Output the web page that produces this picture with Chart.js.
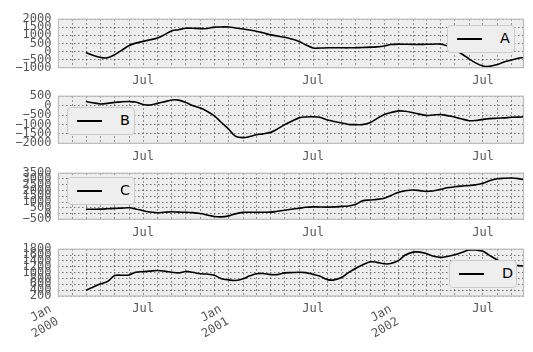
<!DOCTYPE html>
<html>
<head>
<meta charset="utf-8">
<script src="https://cdn.jsdelivr.net/npm/chart.js@4.4.1/dist/chart.umd.min.js"></script>
<style>
	html, body { margin: 0; padding: 0; background: #fff; }
	#fig { position: relative; width: 533px; height: 352px; overflow: hidden; }
	#fig canvas { position: absolute; left: 0; }
	.legend { position: absolute; box-sizing: border-box; width: 68px; height: 28px; background: #eeeeee;
		border: 1px solid #cccccc; border-radius: 4px; font-family: 'DejaVu Sans', sans-serif; font-size: 14.4px; color: #000; }
	.legend .swatch { position: absolute; left: 9px; top: 12px; width: 25px; height: 1.6px; background: #000; }
	.legend .label { position: absolute; left: 52px; top: 4px; }
</style>
</head>
<body>
<div id="fig">
	<canvas id="panelA"></canvas>
	<canvas id="panelB"></canvas>
	<canvas id="panelC"></canvas>
	<canvas id="panelD"></canvas>
</div>
<script>
// Sample dates (rolling mean starts at the end of February 2000).
const dates = [
	'2000-02-29', '2000-03-15', '2000-04-01', '2000-04-15', '2000-05-01', '2000-05-15', '2000-06-01', '2000-06-15',
	'2000-07-01', '2000-07-15', '2000-08-01', '2000-08-15', '2000-09-01', '2000-09-15', '2000-10-01', '2000-10-15',
	'2000-11-01', '2000-11-15', '2000-12-01', '2000-12-15', '2001-01-01', '2001-01-15', '2001-02-01', '2001-02-15',
	'2001-03-01', '2001-03-15', '2001-04-01', '2001-04-15', '2001-05-01', '2001-05-15', '2001-06-01', '2001-06-15',
	'2001-07-01', '2001-07-15', '2001-08-01', '2001-08-15', '2001-09-01', '2001-09-15', '2001-10-01', '2001-10-15',
	'2001-11-01', '2001-11-15', '2001-12-01', '2001-12-15', '2002-01-01', '2002-01-15', '2002-02-01', '2002-02-15',
	'2002-03-01', '2002-03-15', '2002-04-01', '2002-04-15', '2002-05-01', '2002-05-15', '2002-06-01', '2002-06-15',
	'2002-07-01', '2002-07-15', '2002-08-01', '2002-08-15', '2002-09-01', '2002-09-15', '2002-09-26'
];

const seriesA = [
	-60, -230, -370, -390, -190, 60, 370, 520, 630, 720,
	830, 1030, 1280, 1350, 1440, 1440, 1420, 1420, 1510, 1520,
	1520, 1460, 1390, 1330, 1260, 1160, 1030, 960, 880, 780,
	620, 420, 220, 215, 230, 230, 230, 230, 240, 250,
	270, 290, 340, 430, 460, 450, 440, 440, 450, 455,
	460, 350, 100, -120, -450, -700, -890, -920, -800, -650,
	-520, -420, -370
];
const seriesB = [
	220, 150, 90, 120, 170, 200, 215, 190, 60, 30,
	120, 200, 300, 290, 160, 0, -130, -300, -550, -870,
	-1260, -1620, -1700, -1640, -1550, -1500, -1420, -1250, -1010, -840,
	-650, -600, -590, -620, -760, -840, -920, -1000, -1010, -1010,
	-900, -690, -470, -370, -280, -300, -380, -450, -520, -500,
	-470, -530, -600, -700, -800, -790, -730, -690, -670, -650,
	-620, -610, -600
];
const seriesC = [
	370, 370, 380, 410, 450, 470, 500, 400, 240, 140,
	70, 110, 150, 120, 110, 80, 0, -120, -260, -290,
	-200, -30, 100, 110, 110, 110, 120, 200, 290, 370,
	460, 540, 580, 570, 560, 580, 620, 650, 800, 1100,
	1180, 1230, 1320, 1560, 1850, 1980, 2040, 1990, 1920, 1960,
	2100, 2230, 2320, 2380, 2430, 2490, 2620, 2850, 3020, 3060,
	3080, 3030, 2940
];
const seriesD = [
	400, 500, 620, 690, 900, 910, 920, 1015, 1030, 1050,
	1070, 1050, 1010, 990, 1040, 1010, 960, 950, 910, 800,
	750, 730, 790, 890, 960, 970, 930, 930, 990, 1000,
	1010, 1000, 940, 880, 760, 750, 840, 1000, 1150, 1260,
	1370, 1350, 1300, 1310, 1420, 1600, 1700, 1700, 1650, 1570,
	1520, 1550, 1610, 1680, 1770, 1770, 1730, 1590, 1430, 1330,
	1270, 1240, 1225
];

const labels = [ 'A', 'B', 'C', 'D' ];
const yTicksA = [ -1000, 2000, 500 ];   // min, max, step
const yTicksB = [ -2000, 500, 500 ];
const yTicksC = [ -500, 3500, 500 ];
const yTicksD = [ 200, 1800, 200 ];
const firstDay = '2000-01-01';
const lastDay = '2002-09-26';
const janYears = [ 2000, 2001, 2002 ];

document.addEventListener( 'DOMContentLoaded', function () {
	const dayMs = 86400000,
		epoch = Date.parse( firstDay ),
		fig = document.getElementById( 'fig' ),
		tickFont = { family: "'DejaVu Sans Mono', monospace", size: 12 },
		tickColor = '#555555';

	function toDay( s ) {
		return ( Date.parse( s ) - epoch ) / dayMs;
	}

	const maxDay = toDay( lastDay );

	// One grid line per month start.
	let monthTicks = [];
	for ( let y = 2000; y <= 2002; y++ ) {
		for ( let m = 0; m < 12; m++ ) {
			let d = ( Date.UTC( y, m, 1 ) - epoch ) / dayMs;
			if ( d <= maxDay ) {
				monthTicks.push( d );
			}
		}
	}

	const axesPlugin = {
		id: 'axesFrame',
		beforeDraw( chart ) {
			const a = chart.chartArea, ctx = chart.ctx;
			ctx.save();
			ctx.fillStyle = '#eeeeee';
			ctx.fillRect( a.left, a.top, a.right - a.left, a.bottom - a.top );
			ctx.restore();
		},
		afterDraw( chart ) {
			const a = chart.chartArea, ctx = chart.ctx;
			ctx.save();
			ctx.strokeStyle = '#bcbcbc';
			ctx.lineWidth = 1.2;
			ctx.strokeRect( a.left, a.top, a.right - a.left, a.bottom - a.top );
			ctx.restore();
		}
	};

	// Rotated "Jan / year" labels under the last panel.
	const janPlugin = {
		id: 'janLabels',
		afterDraw( chart ) {
			const ctx = chart.ctx, xs = chart.scales.x, bottom = chart.chartArea.bottom;
			ctx.save();
			ctx.font = '12px ' + tickFont.family;
			ctx.fillStyle = tickColor;
			ctx.textAlign = 'right';
			ctx.textBaseline = 'top';
			janYears.forEach( function ( year ) {
				const px = xs.getPixelForValue( ( Date.UTC( year, 0, 1 ) - epoch ) / dayMs );
				ctx.save();
				ctx.translate( px - 11, bottom + 7 );
				ctx.rotate( -Math.PI / 6 );
				ctx.fillText( 'Jan', 0, 0 );
				ctx.fillText( String( year ), 0, 14.4 );
				ctx.restore();
			} );
			ctx.restore();
		}
	};

	function fmtY( v ) {
		return v < 0 ? '\u2212' + Math.abs( v ) : String( v );
	}

	function makePanel( id, values, yTicks, areaTop, areaBottom, last ) {
		const canvas = document.getElementById( id ),
			top = Math.floor( areaTop ) - 10,
			height = last ? 352 - top : Math.round( areaBottom + 24 - top ),
			padTop = areaTop - top,
			axisH = top + height - areaBottom;

		canvas.width = 533;
		canvas.height = height;
		canvas.style.top = top + 'px';
		canvas.style.width = '533px';
		canvas.style.height = height + 'px';

		return new Chart( canvas, {
			type: 'line',
			data: {
				datasets: [ {
					data: dates.map( function ( d, i ) {
						return { x: toDay( d ), y: values[ i ] };
					} ),
					borderColor: '#000000',
					borderWidth: 1.6,
					pointRadius: 0,
					tension: 0.35,
					fill: false
				} ]
			},
			options: {
				responsive: false,
				animation: false,
				events: [],
				layout: { padding: { top: padTop, right: 9.5, left: 0, bottom: 0 } },
				plugins: { legend: { display: false }, tooltip: { enabled: false } },
				scales: {
					x: {
						type: 'linear',
						min: 0,
						max: maxDay,
						afterBuildTicks: function ( scale ) {
							scale.ticks = monthTicks.map( function ( v ) {
								return { value: v };
							} );
						},
						afterFit: function ( scale ) {
							scale.height = axisH;
						},
						grid: { color: 'rgba(0,0,0,0.75)', lineWidth: 0.7, drawTicks: false },
						border: { display: false, dash: [ 1.5, 2.5 ] },
						ticks: {
							autoSkip: false,
							maxRotation: 0,
							minRotation: 0,
							padding: 6,
							font: tickFont,
							color: tickColor,
							callback: function ( value ) {
								return new Date( epoch + value * dayMs ).getUTCMonth() === 6 ? 'Jul' : '';
							}
						}
					},
					y: {
						min: yTicks[ 0 ],
						max: yTicks[ 1 ],
						afterFit: function ( scale ) {
							scale.width = 58.4;
						},
						grid: { color: 'rgba(0,0,0,0.75)', lineWidth: 0.7, drawTicks: false },
						border: { display: false, dash: [ 1.5, 2.5 ] },
						ticks: {
							stepSize: yTicks[ 2 ],
							autoSkip: false,
							padding: 7,
							font: tickFont,
							color: tickColor,
							callback: fmtY
						}
					}
				}
			},
			plugins: last ? [ axesPlugin, janPlugin ] : [ axesPlugin ]
		} );
	}

	makePanel( 'panelA', seriesA, yTicksA, 15.5, 67.7, false );
	makePanel( 'panelB', seriesB, yTicksB, 92.7, 143.3, false );
	makePanel( 'panelC', seriesC, yTicksC, 169, 219.3, false );
	makePanel( 'panelD', seriesD, yTicksD, 245, 296, true );

	// Legend boxes as in the reference.
	const legendPos = [ [ 447, 25 ], [ 67, 107 ], [ 67, 177 ], [ 449, 260 ] ];
	labels.forEach( function ( name, i ) {
		const box = document.createElement( 'div' );
		box.className = 'legend';
		box.style.left = legendPos[ i ][ 0 ] + 'px';
		box.style.top = legendPos[ i ][ 1 ] + 'px';
		box.innerHTML = '<div class="swatch"></div><span class="label">' + name + '</span>';
		fig.appendChild( box );
	} );
} );
</script>
</body>
</html>
